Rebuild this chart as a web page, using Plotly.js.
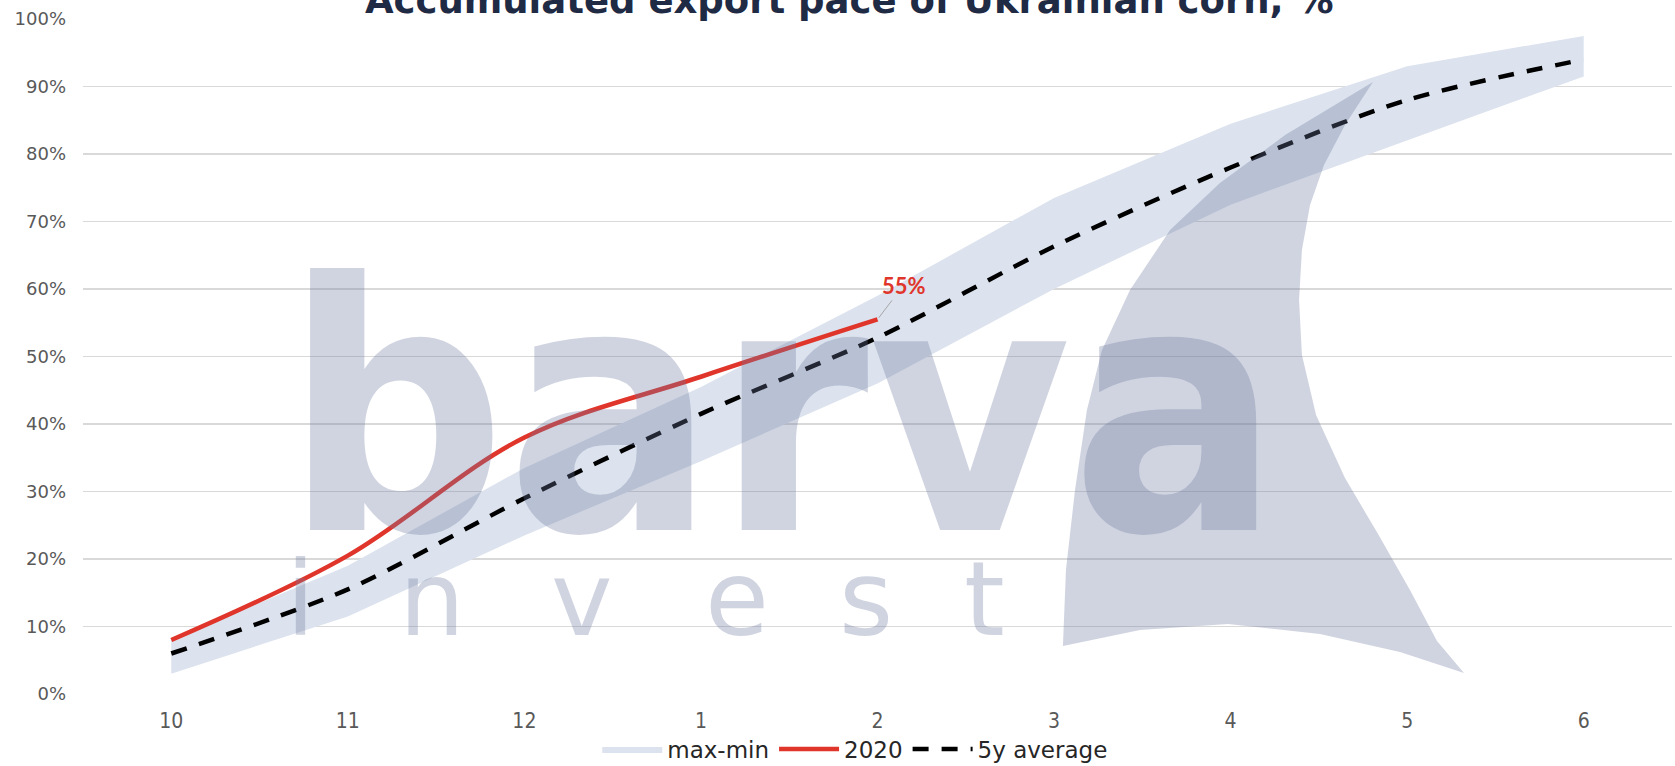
<!DOCTYPE html>
<html>
<head>
<meta charset="utf-8">
<script src="https://cdn.plot.ly/plotly-3.0.1.min.js"></script>
<style>
  html, body { margin: 0; padding: 0; background: #ffffff; }
  #chart { width: 1675px; height: 766px; }
</style>
</head>
<body>
<div id="chart"></div>
<script>
// ---- data ----
const months = ['10', '11', '12', '1', '2', '3', '4', '5', '6'];
const bandMax = [0.08, 0.19, 0.335, 0.455, 0.59, 0.735, 0.845, 0.93, 0.975];
const bandMin = [0.03, 0.115, 0.235, 0.345, 0.46, 0.60, 0.725, 0.82, 0.915];
const avg5y = [0.06, 0.155, 0.29, 0.415, 0.528, 0.663, 0.78, 0.88, 0.94];
const months2020 = ['10', '11', '12', '1', '2'];
const pace2020 = [0.08, 0.205, 0.38, 0.47, 0.555];
const yTicks = [0, 0.1, 0.2, 0.3, 0.4, 0.5, 0.6, 0.7, 0.8, 0.9, 1.0];
const titleText = 'Accumulated export pace of Ukrainian corn, %';
const lastLabel = '55%';

// ---- plot-area geometry (pixels) used for the watermark only ----
const W = 1675, H = 766;
const M = { l: 83, r: 3, t: 19, b: 72 };
const PW = W - M.l - M.r, PH = H - M.t - M.b;
const px = x => (x - M.l) / PW;
const py = y => (H - M.b - y) / PH;

const wmColor = 'rgba(110,122,160,0.32)';

const traces = [
  {
    x: months, y: bandMin, type: 'scatter', mode: 'lines',
    line: { width: 0, color: 'rgba(0,0,0,0)' },
    showlegend: false, hoverinfo: 'skip'
  },
  {
    x: months, y: bandMax, type: 'scatter', mode: 'lines',
    name: 'max-min', fill: 'tonexty', fillcolor: '#dce3ee',
    line: { width: 0, color: '#dce3ee' }
  },
  {
    x: months2020, y: pace2020, type: 'scatter', mode: 'lines',
    name: '2020', line: { color: '#e0352b', width: 4.5, shape: 'spline', smoothing: 1 }
  },
  {
    x: months, y: avg5y, type: 'scatter', mode: 'lines',
    name: '5y average', line: { color: '#000000', width: 4.5, dash: '16px,13px', shape: 'spline', smoothing: 0.8 }
  }
];

// watermark text
const annotations = [
  {
    xref: 'paper', yref: 'paper', x: px(782), y: py(410),
    xanchor: 'center', yanchor: 'middle', showarrow: false,
    text: 'barva',
    font: { family: 'DejaVu Sans Condensed, DejaVu Sans', size: 345, weight: 'bold', color: wmColor }
  }
];
const investLetters = ['i', 'n', 'v', 'e', 's', 't'];
const investX = [300, 432, 582, 737, 866, 985];
investLetters.forEach((ch, i) => {
  annotations.push({
    xref: 'paper', yref: 'paper', x: px(investX[i]), y: py(599),
    xanchor: 'center', yanchor: 'middle', showarrow: false, text: ch,
    font: { family: 'DejaVu Sans', size: 104, color: wmColor }
  });
});
// value label at the last 2020 point
annotations.push({
  x: months.indexOf(months2020[months2020.length - 1]), y: pace2020[pace2020.length - 1],
  xref: 'x', yref: 'y', text: '<b>' + lastLabel + '</b>',
  showarrow: true, arrowhead: 0, arrowwidth: 1, arrowcolor: '#a6a6a6',
  ax: 26, ay: -34, standoff: 2,
  font: { family: 'Lato, DejaVu Sans', size: 22, color: '#e0352b' }
});

// sail watermark path
const sailPts = [
  [1373, 82], [1345, 125], [1324, 165], [1310, 205], [1302, 250], [1299, 300],
  [1302, 355], [1316, 415], [1345, 478], [1378, 534], [1410, 590], [1437, 641], [1464, 673],
  [1400, 652], [1320, 634], [1228, 624], [1140, 630], [1063, 646],
  [1066, 570], [1075, 490], [1087, 410], [1102, 350], [1130, 290], [1170, 230],
  [1220, 183], [1285, 135]
];
const sailPath = 'M ' + sailPts.map(p => px(p[0]).toFixed(4) + ',' + py(p[1]).toFixed(4)).join(' L ') + ' Z';

const layout = {
  width: W, height: H,
  margin: M,
  paper_bgcolor: '#ffffff', plot_bgcolor: '#ffffff',
  title: {
    text: '<b>' + titleText + '</b>',
    xref: 'container', x: 0.507, xanchor: 'center',
    yref: 'container', y: 1, yanchor: 'middle',
    font: { family: 'DejaVu Sans', size: 37, color: '#1f2a44' }
  },
  showlegend: true,
  legend: {
    orientation: 'h', xref: 'paper', x: 0.486, xanchor: 'center',
    yref: 'container', y: 0.022, yanchor: 'middle',
    font: { family: 'DejaVu Sans', size: 23, color: '#262626' },
    traceorder: 'normal', itemwidth: 60
  },
  xaxis: {
    type: 'category', categoryorder: 'array', categoryarray: months,
    range: [-0.5, 8.5], showgrid: false, zeroline: false, showline: false,
    ticks: '', ticklabelstandoff: 12,
    tickfont: { family: 'Liberation Sans Narrow, DejaVu Sans Condensed', size: 21, color: '#595959' }
  },
  yaxis: {
    range: [0, 1], tickvals: yTicks, tickformat: '.0%',
    showgrid: true, gridcolor: '#d9d9d9', gridwidth: 1.5,
    zeroline: false, showline: false, ticks: '', ticklabelstandoff: 16,
    tickfont: { family: 'DejaVu Sans', size: 18, color: '#595959' }
  },
  shapes: [
    {
      type: 'path', xref: 'paper', yref: 'paper', path: sailPath,
      fillcolor: wmColor, line: { width: 0 }, layer: 'above'
    }
  ],
  annotations: annotations
};

Plotly.newPlot('chart', traces, layout, { displayModeBar: false, staticPlot: true });
</script>
</body>
</html>
